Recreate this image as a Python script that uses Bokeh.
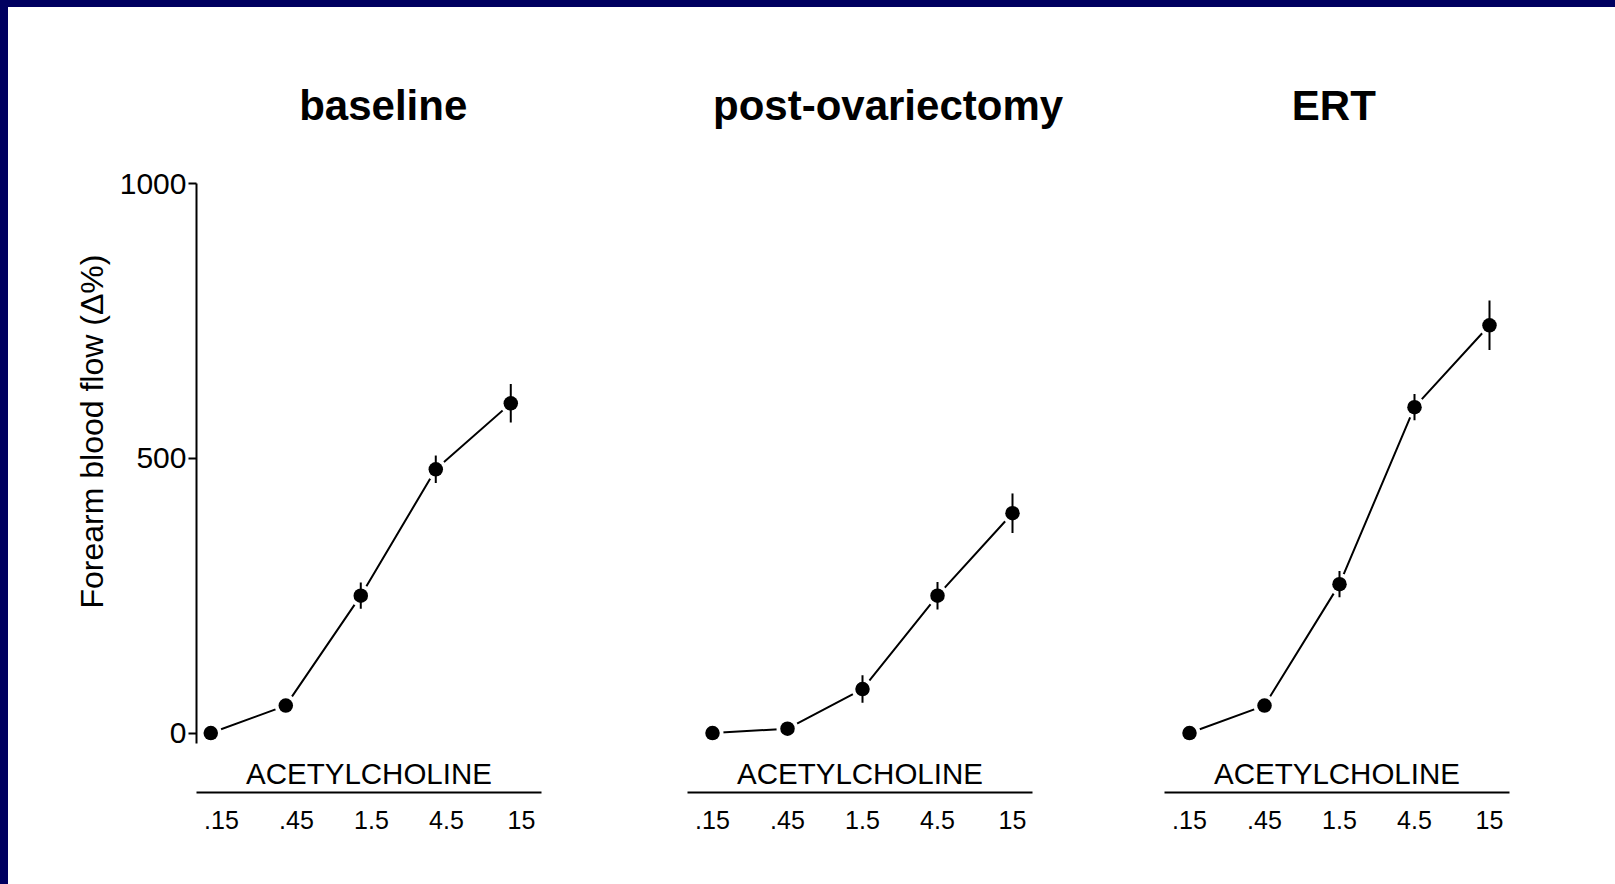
from bokeh.plotting import figure
from bokeh.layouts import row
from bokeh.models import (ColumnDataSource, Range1d, LinearAxis, FixedTicker,
                          Title, Grid, GlobalInlineStyleSheet)
from bokeh.transform import dodge
from bokeh.embed import file_html
from bokeh.resources import INLINE

# ---------------- data ----------------
doses = [".15", ".45", "1.5", "4.5", "15"]
panel_titles = ["baseline", "post-ovariectomy", "ERT"]
baseline_mean = [0, 50, 250, 480, 600]
baseline_sem = [4, 6, 24, 25, 35]
ovx_mean = [0, 8, 80, 250, 400]
ovx_sem = [4, 5, 25, 25, 36]
ert_mean = [0, 50, 271, 593, 742]
ert_sem = [4, 6, 24, 24, 45]
y_ticks = [0, 500, 1000]
x_label = "ACETYLCHOLINE"
y_label = "Forearm blood flow (\u0394%)"

FONT = "Liberation Sans"
NAVY = "#000060"

y_range = Range1d(-19, 1000)
idx = list(range(len(doses)))


def make_panel(title, mean, sem, mbl, mbr, shift, title_dx, with_yaxis):
    lower = [m - s for m, s in zip(mean, sem)]
    upper = [m + s for m, s in zip(mean, sem)]
    src = ColumnDataSource(dict(idx=idx, mean=mean, lower=lower, upper=upper))
    p = figure(frame_width=345, frame_height=560,
               x_range=Range1d(-1 / 3, 4.6 - 1 / 3), y_range=y_range,
               x_axis_location=None, y_axis_location=None,
               toolbar_location=None, tools="", output_backend="svg",
               min_border_top=176, min_border_bottom=110,
               min_border_left=mbl, min_border_right=mbr,
               outline_line_color=None,
               background_fill_color="white", border_fill_color="white")
    p.center = [r for r in p.center if not isinstance(r, Grid)]

    p.title.text = title
    p.title.align = "left"
    p.title.offset = title_dx
    p.title.standoff = 110
    p.title.text_font = FONT
    p.title.text_font_size = "42px"
    p.title.text_font_style = "bold"
    p.title.text_color = "black"

    xs = dodge("idx", shift, range=p.x_range)
    p.line(x=xs, y="mean", source=src, line_color="black", line_width=2)
    p.scatter(x=xs, y="mean", source=src, size=22, fill_color="white",
              line_color=None)
    p.segment(x0=xs, y0="lower", x1=xs, y1="upper", source=src,
              line_color="black", line_width=2)
    p.scatter(x=xs, y="mean", source=src, size=14.5, fill_color="black",
              line_color=None)

    # x label (above the line)
    xa1 = LinearAxis(ticker=FixedTicker(ticks=[]), axis_line_color=None,
                     major_tick_out=0, major_tick_in=0, minor_tick_out=0,
                     minor_tick_in=0, major_label_standoff=0,
                     axis_label=x_label, axis_label_standoff=13,
                     axis_label_text_font=FONT, axis_label_text_font_size="29.5px",
                     axis_label_text_font_style="normal",
                     axis_label_text_color="black")
    # line + dose labels
    xa2 = LinearAxis(ticker=FixedTicker(ticks=idx),
                     major_label_overrides={i: d for i, d in zip(idx, doses)},
                     axis_line_color="black", axis_line_width=2,
                     major_tick_out=0, major_tick_in=0, minor_tick_out=0,
                     minor_tick_in=0, major_label_standoff=18,
                     major_label_text_font=FONT,
                     major_label_text_font_size="25px",
                     major_label_text_color="black")
    p.add_layout(xa1, "below")
    p.add_layout(xa2, "below")

    if with_yaxis:
        ya = LinearAxis(ticker=FixedTicker(ticks=y_ticks),
                        axis_line_color="black", axis_line_width=2,
                        major_tick_line_color="black", major_tick_line_width=2,
                        major_tick_out=8, major_tick_in=0,
                        minor_tick_out=0, minor_tick_in=0,
                        major_label_standoff=2,
                        major_label_text_font=FONT,
                        major_label_text_font_size="30px",
                        major_label_text_color="black")
        p.add_layout(ya, "left")
        p.add_layout(Title(text=y_label, align="left", offset=135,
                           vertical_align="bottom", standoff=13,
                           text_font=FONT, text_font_size="32px",
                           text_font_style="normal", text_color="black"), "left")
    return p


p1 = make_panel(panel_titles[0], baseline_mean, baseline_sem, 188, 73, -0.143, 102.7, True)
p2 = make_panel(panel_titles[1], ovx_mean, ovx_sem, 73, 66, 0.0, 25.5, False)
p3 = make_panel(panel_titles[2], ert_mean, ert_sem, 66, 90, 0.0, 127.3, False)

layout = row(p1, p2, p3)
layout.stylesheets = [GlobalInlineStyleSheet(css=(
    "html, body { margin: 0; padding: 0; overflow: hidden; background: #ffffff; } "
    "body { border-top: 7px solid %s; border-left: 8px solid %s; }" % (NAVY, NAVY)))]

open("out.html", "w").write(file_html(layout, INLINE))
